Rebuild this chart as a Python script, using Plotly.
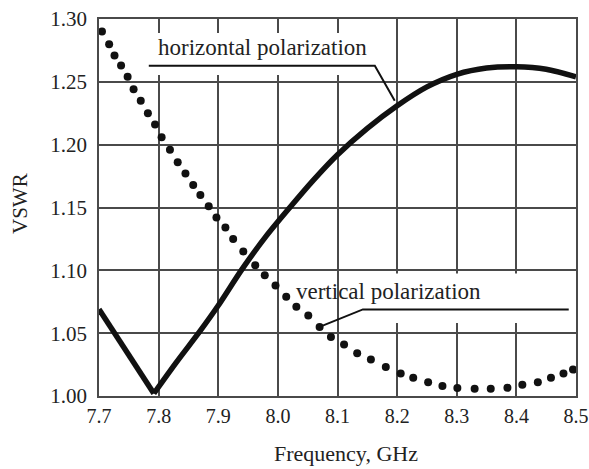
import plotly.graph_objects as go

# Horizontal polarization (solid curve)
freq_h = [7.70, 7.745, 7.792, 7.83, 7.87, 7.90, 7.94, 7.98, 8.02, 8.06, 8.10,
          8.15, 8.20, 8.25, 8.30, 8.35, 8.40, 8.45, 8.50]
vswr_h = [1.069, 1.036, 1.002, 1.027, 1.052, 1.072, 1.101, 1.127, 1.150, 1.172, 1.192,
          1.213, 1.231, 1.246, 1.256, 1.261, 1.262, 1.260, 1.254]

# Vertical polarization (dotted curve)
freq_v = [7.705, 7.717, 7.726, 7.737, 7.748, 7.758, 7.770, 7.782, 7.794, 7.805,
          7.819, 7.832, 7.845, 7.858, 7.870, 7.884, 7.897, 7.912, 7.925, 7.942,
          7.962, 7.978, 7.996, 8.014, 8.031, 8.051, 8.070, 8.089, 8.111, 8.133,
          8.156, 8.181, 8.206, 8.227, 8.252, 8.276, 8.301, 8.330, 8.357, 8.385,
          8.410, 8.436, 8.458, 8.479, 8.495]
vswr_v = [1.290, 1.280, 1.271, 1.263, 1.254, 1.244, 1.235, 1.225, 1.216, 1.206,
          1.196, 1.186, 1.177, 1.168, 1.160, 1.151, 1.142, 1.134, 1.125, 1.115,
          1.104, 1.096, 1.088, 1.079, 1.071, 1.064, 1.055, 1.047, 1.041, 1.034,
          1.029, 1.023, 1.018, 1.0145, 1.011, 1.008, 1.0063, 1.0057, 1.0057, 1.0065,
          1.009, 1.011, 1.0145, 1.018, 1.021]

x_ticks = [7.7, 7.8, 7.9, 8.0, 8.1, 8.2, 8.3, 8.4, 8.5]
x_tick_text = ["7.7", "7.8", "7.9", "8.0", "8.1", "8.2", "8.3", "8.4", "8.5"]
y_ticks = [1.00, 1.05, 1.10, 1.15, 1.20, 1.25, 1.30]
y_tick_text = ["1.00", "1.05", "1.10", "1.15", "1.20", "1.25", "1.30"]

FONT = "Liberation Serif"
GRID = "#4a4a4a"
INK = "#111111"
TEXT = "#222222"

fig = go.Figure()
# the solid curve has a sharp notch at its minimum: straight left branch,
# smooth right branch, both from the same series
k_min = vswr_h.index(min(vswr_h))
fig.add_trace(go.Scatter(x=freq_h[:k_min + 1], y=vswr_h[:k_min + 1], mode="lines",
                         line=dict(color=INK, width=5.5),
                         showlegend=False, hoverinfo="skip"))
fig.add_trace(go.Scatter(x=freq_h[k_min:], y=vswr_h[k_min:], mode="lines",
                         line=dict(color=INK, width=5.5, shape="spline", smoothing=0.8),
                         showlegend=False, hoverinfo="skip"))
fig.add_trace(go.Scatter(x=freq_v, y=vswr_v, mode="markers",
                         marker=dict(color=INK, size=8),
                         showlegend=False, hoverinfo="skip"))

# leader-line anchor points taken from the curves
h_idx = freq_h.index(8.20)
v_idx = freq_v.index(8.070)

shapes = [
    # white backing boxes behind the labels
    dict(type="rect", xref="x", yref="y", x0=7.7835, x1=8.166, y0=1.2554, y1=1.2889,
         fillcolor="white", line=dict(width=0), layer="above"),
    dict(type="rect", xref="x", yref="y", x0=8.136, x1=8.491, y0=1.058, y1=1.0975,
         fillcolor="white", line=dict(width=0), layer="above"),
    # leader lines
    dict(type="path", xref="x", yref="y",
         path=f"M 7.7835 1.2628 L 8.1626 1.2628 L {freq_h[h_idx] - 0.004} {vswr_h[h_idx] + 0.004}",
         line=dict(color=INK, width=2), layer="above"),
    dict(type="path", xref="x", yref="y",
         path=f"M {freq_v[v_idx]} {vswr_v[v_idx]} L 8.1426 1.0689 L 8.4878 1.0689",
         line=dict(color=INK, width=2), layer="above"),
]

annotations = [
    dict(x=7.974, y=1.2773, xref="x", yref="y", text="horizontal polarization",
         showarrow=False, font=dict(family=FONT, size=23, color=TEXT)),
    dict(x=8.186, y=1.0835, xref="x", yref="y", text="vertical polarization",
         showarrow=False, font=dict(family=FONT, size=23, color=TEXT)),
    dict(x=346, y=454, xref="paper", yref="paper", text="Frequency, GHz",
         xanchor="center", yanchor="middle",
         showarrow=False, font=dict(family=FONT, size=22, color=TEXT)),
    dict(x=20, y=204, xref="paper", yref="paper", text="VSWR", textangle=-90,
         xanchor="center", yanchor="middle",
         showarrow=False, font=dict(family=FONT, size=21, color=TEXT)),
]

# convert pixel-positioned axis titles to paper fractions
W, H = 589, 469
ML, MR, MT, MB = 99, 13, 19, 73
pw, ph = W - ML - MR, H - MT - MB
for a in annotations[2:]:
    a["x"] = (a["x"] - ML) / pw
    a["y"] = (H - MB - a["y"]) / ph

fig.update_layout(
    width=W, height=H,
    margin=dict(l=ML, r=MR, t=MT, b=MB, pad=0, autoexpand=False),
    paper_bgcolor="white", plot_bgcolor="white",
    shapes=shapes, annotations=annotations,
    font=dict(family=FONT, color=TEXT),
)
fig.update_xaxes(range=[7.7, 8.5], tickvals=x_ticks, ticktext=x_tick_text,
                 showgrid=True, gridcolor=GRID, gridwidth=1.5,
                 showline=True, mirror=True, linecolor=GRID, linewidth=1.5,
                 ticks="outside", ticklen=1, tickcolor="rgba(0,0,0,0)",
                 ticklabeloverflow="allow", automargin=False,
                 tickfont=dict(family=FONT, size=20, color=TEXT),
                 zeroline=False)
fig.update_yaxes(range=[1.0, 1.3], tickvals=y_ticks, ticktext=y_tick_text,
                 showgrid=True, gridcolor=GRID, gridwidth=1.5,
                 showline=True, mirror=True, linecolor=GRID, linewidth=1.5,
                 ticks="outside", ticklen=6, tickcolor="rgba(0,0,0,0)",
                 automargin=False,
                 tickfont=dict(family=FONT, size=21, color=TEXT),
                 zeroline=False)

fig.write_html("out.html")
